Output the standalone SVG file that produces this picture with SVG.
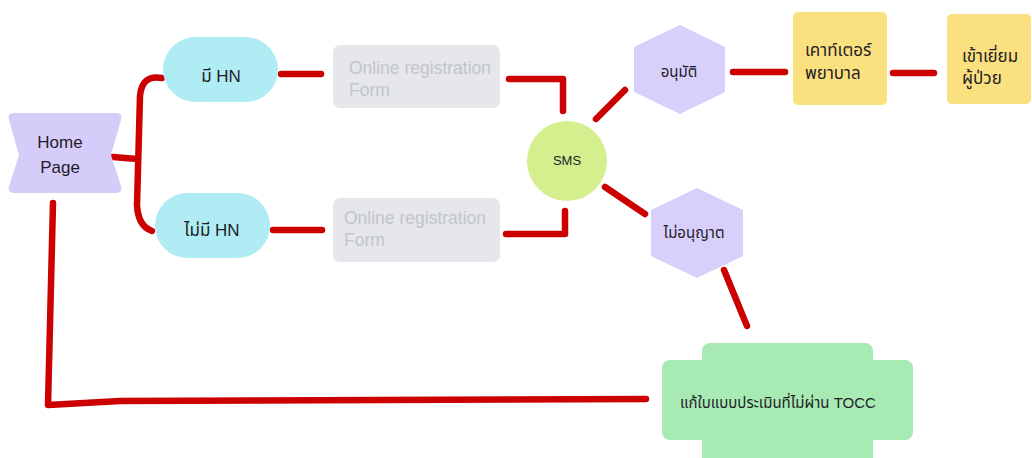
<svg xmlns="http://www.w3.org/2000/svg" width="1032" height="458" viewBox="0 0 1032 458">
<style>
.t{font-family:"Liberation Sans","Noto Sans Thai","Noto Sans","DejaVu Sans",sans-serif;fill:#1e1e28}
.c{fill:none;stroke:#cc0000;stroke-width:6.5;stroke-linecap:round;stroke-linejoin:round}
.pill{fill:#b0ecf3}
.form{fill:#e5e7ea}
.ft{font-family:"Liberation Sans","Noto Sans",sans-serif;fill:#c2c5c9;font-size:17.5px}
.hex{fill:#d8cffb}
.yel{fill:#fae07f}
</style>
<rect width="1032" height="458" fill="#ffffff"/>
<g id="connectors">
<path class="c" d="M113,157 L137,159"/>
<path class="c" d="M162,78 Q142,74 140,96 L137,205 Q138,226 152,231"/>
<path class="c" d="M281,74 L321,74"/>
<path class="c" d="M273,230 L322,230"/>
<path class="c" d="M509,79 L563,79 L563,111"/>
<path class="c" d="M506,234 L565,234 L565,211"/>
<path class="c" d="M596,119 L625,90"/>
<path class="c" d="M605,187 L645,214"/>
<path class="c" d="M733,72 L785,72"/>
<path class="c" d="M893,73 L934,73"/>
<path class="c" d="M724,270 L747,326"/>
<path class="c" d="M53,203 L48,405 L120,401 L646,399"/>
</g>
<g id="home">
<path d="M14,113 L116,113 Q123,113 121,120 L111,155 L121,186 Q123,193 116,193 L14,193 Q7,193 9,186 L19,155 L9,120 Q7,113 14,113 Z" fill="#d6ccfa"/>
<text class="t" x="60" y="148" font-size="17" text-anchor="middle">Home</text>
<text class="t" x="60" y="173" font-size="17" text-anchor="middle">Page</text>
</g>
<g id="hasHN">
<rect class="pill" x="163" y="37" width="115" height="65" rx="32.5"/>
<text class="t" x="221" y="82" font-size="17" text-anchor="middle">มี HN</text>
</g>
<g id="noHN">
<rect class="pill" x="155" y="193" width="115" height="65" rx="32.5"/>
<text class="t" x="212" y="236" font-size="17" text-anchor="middle">ไม่มี HN</text>
</g>
<g id="form1">
<rect class="form" x="333" y="45" width="167" height="63" rx="7"/>
<text class="ft" x="349" y="74">Online registration</text>
<text class="ft" x="349" y="96">Form</text>
</g>
<g id="form2">
<rect class="form" x="333" y="198" width="167" height="64" rx="7"/>
<text class="ft" x="344" y="224">Online registration</text>
<text class="ft" x="344" y="246">Form</text>
</g>
<g id="sms">
<circle cx="567" cy="161" r="40" fill="#d5ee8e"/>
<text class="t" x="567" y="165" font-size="13" text-anchor="middle">SMS</text>
</g>
<g id="approve">
<polygon class="hex" points="680,25 725,47 725,92 680,114 634,92 634,47"/>
<text class="t" x="679" y="77" font-size="15" text-anchor="middle">อนุมัติ</text>
</g>
<g id="counter">
<rect class="yel" x="793" y="12" width="94" height="93" rx="5"/>
<text class="t" x="805" y="56" font-size="17">เคาท์เตอร์</text>
<text class="t" x="805" y="79" font-size="17">พยาบาล</text>
</g>
<g id="visit">
<rect class="yel" x="947" y="14" width="84" height="90" rx="5"/>
<text class="t" x="962" y="62" font-size="17">เข้าเยี่ยม</text>
<text class="t" x="962" y="84" font-size="17">ผู้ป่วย</text>
</g>
<g id="deny">
<polygon class="hex" points="697,188 743,210 743,256 697,278 651,256 651,210"/>
<text class="t" x="694" y="238" font-size="15" text-anchor="middle">ไม่อนุญาต</text>
</g>
<g id="tocc">
<rect x="702" y="343" width="171" height="125" rx="8" fill="#a7eab3"/>
<rect x="662" y="360" width="251" height="80" rx="8" fill="#a7eab3"/>
<text class="t" x="778" y="408" font-size="15" text-anchor="middle">แก้ใบแบบประเมินที่ไม่ผ่าน TOCC</text>
</g>
</svg>
